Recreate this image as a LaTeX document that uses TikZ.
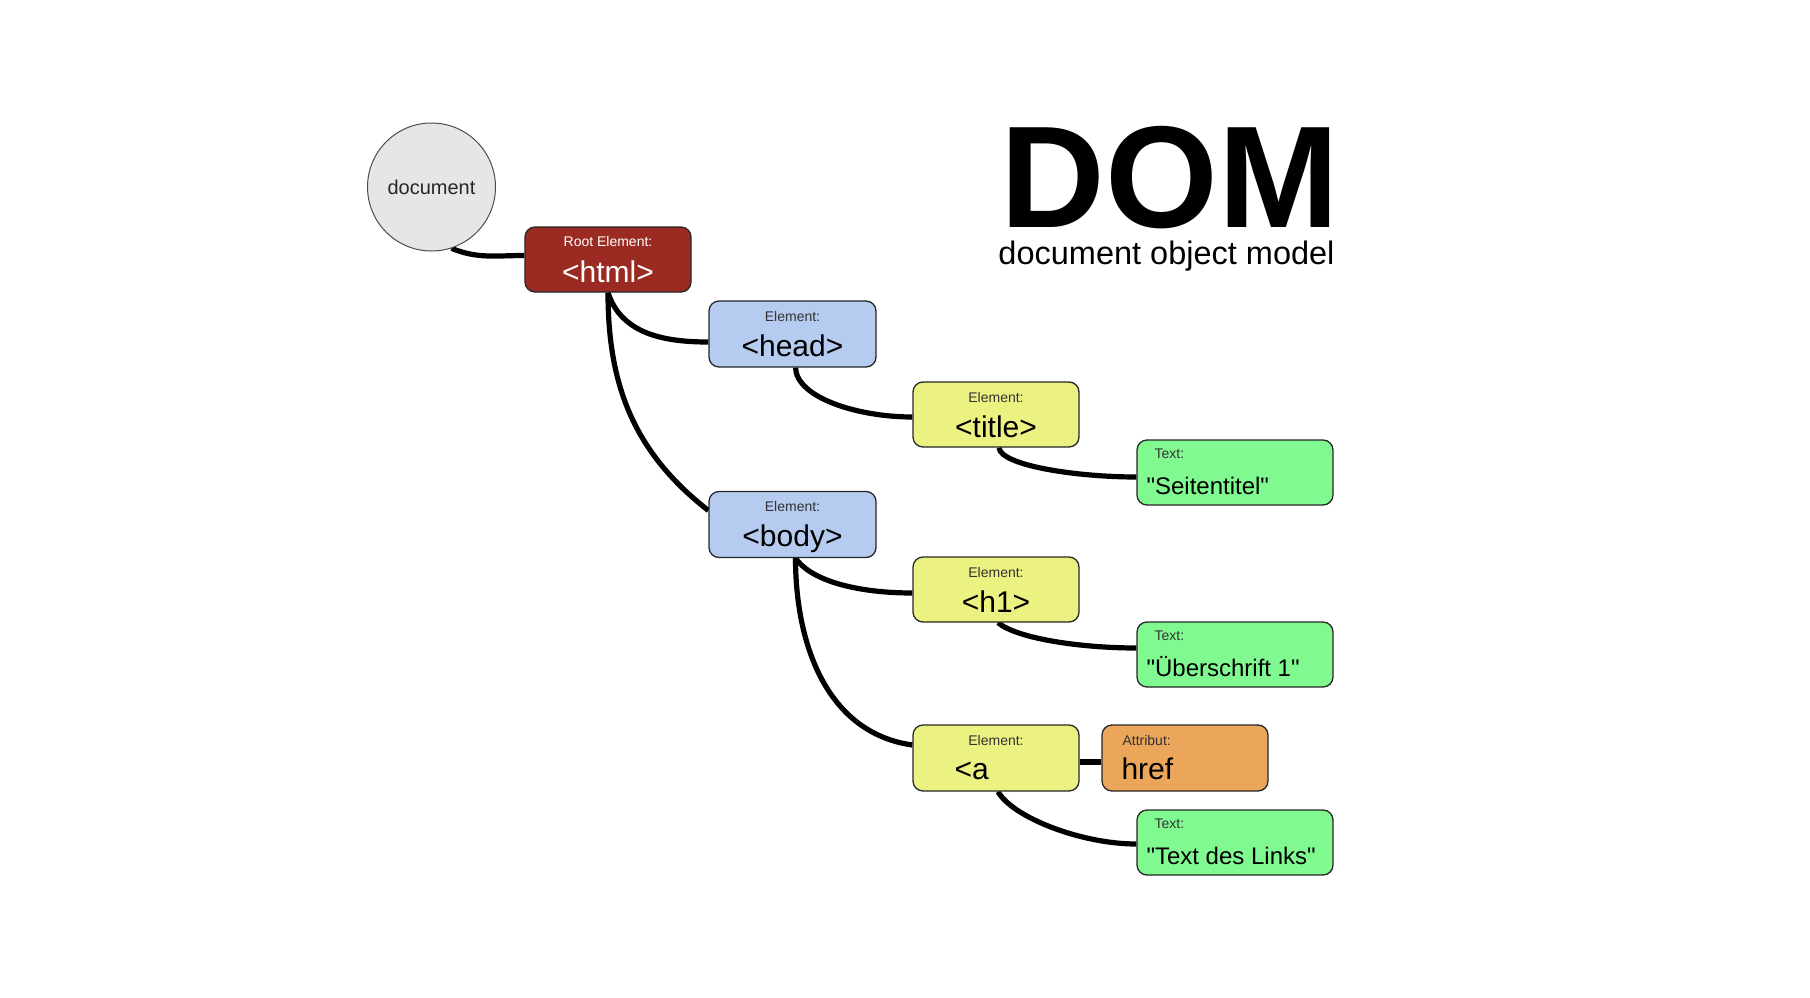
\documentclass[tikz,border=0pt]{standalone}
\usepackage{fontspec}
\setmainfont{Liberation Sans}[Ligatures=TeXOff]
\usetikzlibrary{backgrounds}
\definecolor{docgray}{HTML}{E6E6E6}
\definecolor{htmlred}{HTML}{9B2A22}
\definecolor{elblue}{HTML}{B6CBF0}
\definecolor{elyellow}{HTML}{ECF282}
\definecolor{txgreen}{HTML}{80F990}
\definecolor{atorange}{HTML}{EBA65B}
\definecolor{labgray}{HTML}{333333}
\tikzset{
  box/.style={draw=black!85, line width=1.3pt, rounded corners=10pt, inner sep=0pt},
  rootbox/.style={box, fill=htmlred, minimum width=166pt, minimum height=65pt},
  bluebox/.style={box, fill=elblue, minimum width=167pt, minimum height=66pt},
  yellowbox/.style={box, fill=elyellow, minimum width=166pt, minimum height=65pt},
  greenbox/.style={box, fill=txgreen, minimum width=196pt, minimum height=65pt},
  orangebox/.style={box, fill=atorange, minimum width=166pt, minimum height=66pt},
  small/.style={inner sep=0pt, anchor=base, text=labgray, font=\fontsize{14pt}{16pt}\selectfont},
  smallw/.style={small, anchor=base west},
  big/.style={inner sep=0pt, anchor=base, text=black, font=\fontsize{30pt}{34pt}\selectfont},
  bigw/.style={big, anchor=base west},
  txt/.style={inner sep=0pt, anchor=base west, text=black, font=\fontsize{24pt}{28pt}\selectfont},
  conn/.style={line width=5.2pt, black},
}
\begin{document}
\begin{tikzpicture}[x=1pt,y=1pt]
\useasboundingbox (0,0) rectangle (1810,-998);

% title
\node[inner sep=0pt, anchor=base, font=\fontsize{145pt}{148pt}\selectfont\bfseries] (dom) at (1170,-227) {DOM};
\node[inner sep=0pt, anchor=base, font=\fontsize{32.5pt}{34pt}\selectfont] (domsub) at (1166.5,-264) {document object model};

% document
\node[circle, draw=black!70, line width=1pt, fill=docgray, minimum size=128pt, inner sep=0pt] (doc) at (431.5,-187) {};
\node[inner sep=0pt, anchor=base, font=\fontsize{20pt}{24pt}\selectfont, text=black!85] (docT) at (431.5,-194) {document};

% html
\node[rootbox] (html) at (608,-259.5) {};
\node[small, text=white] (htmlL) at ([yshift=-20pt]html.north) {Root Element:};
\node[big, text=white] (htmlT) at ([yshift=-56pt]html.north) {<html>};

% head
\node[bluebox] (head) at (792.5,-334) {};
\node[small] (headL) at ([yshift=-21pt]head.north) {Element:};
\node[big] (headT) at ([yshift=-56pt]head.north) {<head>};

% body
\node[bluebox] (body) at (792.5,-524.5) {};
\node[small] (bodyL) at ([yshift=-21pt]body.north) {Element:};
\node[big] (bodyT) at ([yshift=-56pt]body.north) {<body>};

% title
\node[yellowbox] (title) at (996,-414.5) {};
\node[small] (titleL) at ([yshift=-21pt]title.north) {Element:};
\node[big] (titleT) at ([yshift=-56pt]title.north) {<title>};

% h1
\node[yellowbox] (h1) at (996,-589.5) {};
\node[small] (h1L) at ([yshift=-21pt]h1.north) {Element:};
\node[big] (h1T) at ([yshift=-56pt]h1.north) {<h1>};

% a
\node[yellowbox, minimum height=66pt] (a) at (996,-758) {};
\node[small] (aL) at ([yshift=-21pt]a.north) {Element:};
\node[bigw] (aT) at ([xshift=42pt,yshift=-55pt]a.north west) {<a};

% href
\node[orangebox] (href) at (1185,-758) {};
\node[smallw] (hrefL) at ([xshift=21pt,yshift=-21pt]href.north west) {Attribut:};
\node[bigw] (hrefT) at ([xshift=20pt,yshift=-55pt]href.north west) {href};

% text nodes
\node[greenbox] (seit) at (1235,-472.5) {};
\node[smallw] (seitL) at ([xshift=18pt,yshift=-19pt]seit.north west) {Text:};
\node[txt] (seitT) at ([xshift=10pt,yshift=-55pt]seit.north west) {"Seitentitel"};

\node[greenbox] (ueb) at (1235,-654.5) {};
\node[smallw] (uebL) at ([xshift=18pt,yshift=-19pt]ueb.north west) {Text:};
\node[txt] (uebT) at ([xshift=10pt,yshift=-55pt]ueb.north west) {"Überschrift 1"};

\node[greenbox] (tdl) at (1235,-842.5) {};
\node[smallw] (tdlL) at ([xshift=18pt,yshift=-19pt]tdl.north west) {Text:};
\node[txt] (tdlT) at ([xshift=10pt,yshift=-55pt]tdl.north west) {"Text des Links"};

% connectors
\begin{scope}[on background layer]
\draw[conn] (doc.-72) to[out=-22,in=180] ([yshift=4pt]html.west);
\draw[conn] (html.south) to[out=-72,in=180] ([yshift=-8pt]head.west);
\draw[conn] (html.south) to[out=-90,in=142] ([yshift=14pt]body.west);
\draw[conn] ([xshift=3pt]head.south) to[out=-88,in=180,out distance=30pt,in distance=55pt] ([yshift=-2.5pt]title.west);
\draw[conn] ([xshift=3pt]title.south) to[out=-85,in=180,out distance=18pt,in distance=60pt] ([yshift=-4.5pt]seit.west);
\draw[conn] ([xshift=3pt]body.south) to[out=-55,in=180,out distance=30pt,in distance=50pt] ([yshift=-3.5pt]h1.west);
\draw[conn] ([xshift=3pt]body.south) to[out=-90,in=172] ([yshift=13pt]a.west);
\draw[conn] ([xshift=2pt]h1.south) to[out=-40,in=180,out distance=25pt,in distance=55pt] ([yshift=6.5pt]ueb.west);
\draw[conn] ([yshift=-4pt]a.east) -- ([yshift=-4pt]href.west);
\draw[conn] ([xshift=2pt]a.south) to[out=-60,in=180,out distance=30pt,in distance=55pt] ([yshift=-1.5pt]tdl.west);
\end{scope}
\end{tikzpicture}
\end{document}
